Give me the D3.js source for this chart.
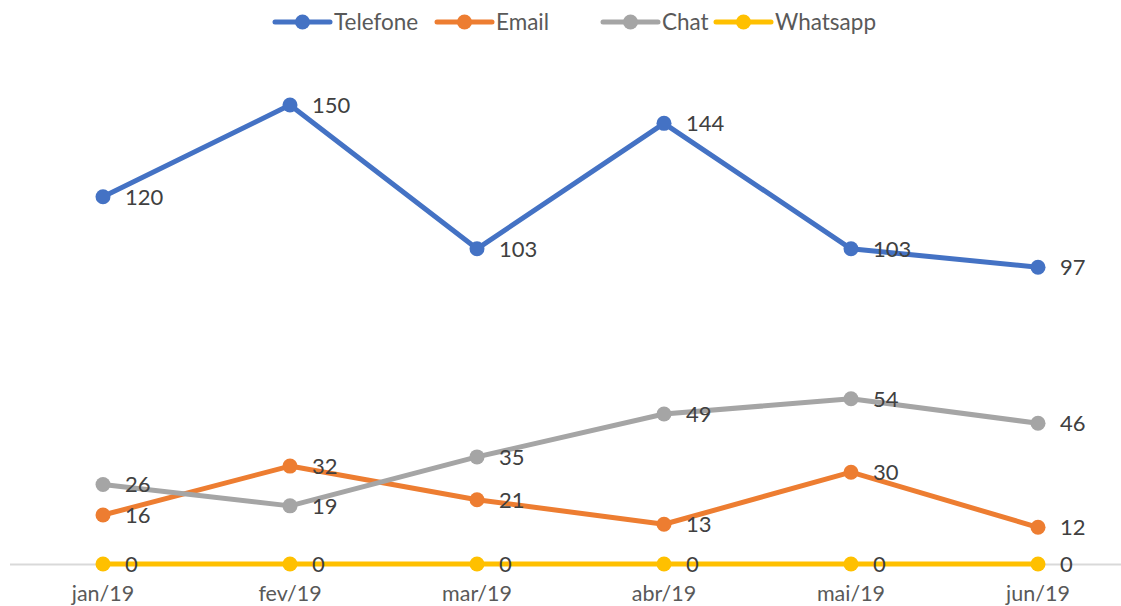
<!DOCTYPE html>
<html>
<head>
<meta charset="utf-8">
<script src="https://cdn.jsdelivr.net/npm/d3@7"></script>
<style>
  body { margin: 0; background: #fff; }
  text { font-family: Lato, "Noto Sans", sans-serif; }
</style>
</head>
<body>
<svg id="chart"></svg>
<script>
// chart data
const months = ["jan/19", "fev/19", "mar/19", "abr/19", "mai/19", "jun/19"];
const telefone = [120, 150, 103, 144, 103, 97];
const email = [16, 32, 21, 13, 30, 12];
const chat = [26, 19, 35, 49, 54, 46];
const whatsapp = [0, 0, 0, 0, 0, 0];
const seriesNames = ["Telefone", "Email", "Chat", "Whatsapp"];
const seriesColors = ["#4472C4", "#ED7D31", "#A5A5A5", "#FFC000"];

const width = 1121, height = 606;
const svg = d3.select("#chart").attr("width", width).attr("height", height);

const series = [telefone, email, chat, whatsapp].map((vals, i) => ({
  name: seriesNames[i],
  color: seriesColors[i],
  values: vals.map((v, j) => ({ month: months[j], value: v }))
}));

// scales
const x = d3.scaleBand().domain(months).range([9.5, 1131.5]);
const y = d3.scaleLinear().domain([0, 150]).range([564, 105]);
const cx = (m) => x(m) + x.bandwidth() / 2;

// x axis (baseline + labels)
const xAxis = svg.append("g").attr("transform", `translate(0,${y(0)})`)
  .call(d3.axisBottom(x).tickSize(0).tickPadding(22));
xAxis.select(".domain").attr("stroke", "#d9d9d9").attr("stroke-width", 2);
xAxis.selectAll("text")
  .style("font-size", "21.5px")
  .style("font-family", "Lato, 'Noto Sans', sans-serif")
  .attr("fill", "#595959");

const line = d3.line().x((d) => cx(d.month)).y((d) => y(d.value));

series.forEach((s) => {
  const g = svg.append("g");
  g.append("path")
    .datum(s.values)
    .attr("d", line)
    .attr("fill", "none")
    .attr("stroke", s.color)
    .attr("stroke-width", 5)
    .attr("stroke-linejoin", "round");
  g.selectAll("circle")
    .data(s.values)
    .enter()
    .append("circle")
    .attr("cx", (d) => cx(d.month))
    .attr("cy", (d) => y(d.value))
    .attr("r", 7.5)
    .attr("fill", s.color);
});

// data labels to the right of each point
series.forEach((s) => {
  svg.append("g")
    .selectAll("text")
    .data(s.values)
    .enter()
    .append("text")
    .attr("x", (d) => cx(d.month) + 22)
    .attr("y", (d) => y(d.value) + 8)
    .style("font-size", "22px")
    .attr("fill", "#404040")
    .text((d) => d.value);
});

// legend
const legendX = [275, 437, 603, 716];
const legend = svg.append("g");
series.forEach((s, i) => {
  const lg = legend.append("g").attr("transform", `translate(${legendX[i]},22)`);
  lg.append("line")
    .attr("x1", 0).attr("x2", 55)
    .attr("stroke", s.color).attr("stroke-width", 5)
    .attr("stroke-linecap", "round");
  lg.append("circle").attr("cx", 27.5).attr("r", 7.5).attr("fill", s.color);
  lg.append("text")
    .attr("x", 59)
    .attr("y", 8)
    .style("font-size", "22.5px")
    .attr("fill", "#595959")
    .text(s.name);
});
</script>
</body>
</html>
